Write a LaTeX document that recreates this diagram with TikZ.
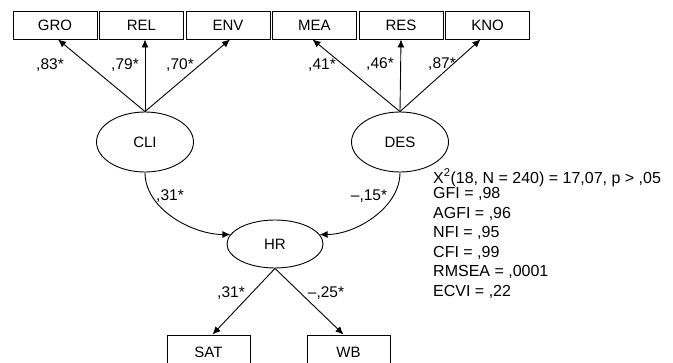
\documentclass[tikz,border=0pt]{standalone}
\usepackage{fontspec}
\setmainfont{Liberation Sans}
\usetikzlibrary{arrows.meta,shapes.geometric}
\begin{document}
\begin{tikzpicture}[x=1pt,y=-1pt,
  every node/.style={font=\fontsize{15}{18}\selectfont},
  obs/.style={draw,line width=0.9pt,rectangle,minimum width=84pt,minimum height=28pt,inner sep=0pt},
  obsb/.style={draw,line width=0.9pt,rectangle,minimum width=83pt,minimum height=34pt,inner sep=0pt},
  lat/.style={draw,line width=0.9pt,ellipse,minimum width=97pt,minimum height=60pt,inner sep=0pt},
  latb/.style={draw,line width=0.9pt,ellipse,minimum width=96pt,minimum height=48pt,inner sep=0pt},
  arr/.style={line width=0.9pt,-{Latex[length=8pt,width=7pt]}},
  lbl/.style={inner sep=0pt,font=\fontsize{15.5}{18}\selectfont},
  stat/.style={inner sep=0pt,anchor=base west,font=\fontsize{16}{19}\selectfont}]
\useasboundingbox (0,0) rectangle (673,362);
\clip (0,0) rectangle (673,362);
% observed indicators
\node[obs] (GRO) at (55,25) {GRO};
\node[obs] (REL) at (141.5,25) {REL};
\node[obs] (ENV) at (228,25) {ENV};
\node[obs] (MEA) at (314.5,25) {MEA};
\node[obs] (RES) at (401,25) {RES};
\node[obs] (KNO) at (487.5,25) {KNO};
% latent
\node[lat] (CLI) at (145,142) {CLI};
\node[lat] (DES) at (400,142) {DES};
\node[latb] (HR) at (275,244) {HR};
% outcomes
\node[obsb] (SAT) at (208.5,352) {SAT};
\node[obsb] (WB) at (348.5,352) {WB};
% loadings
\draw[arr] (CLI.north) -- ([xshift=3pt]GRO.south);
\draw[arr] (CLI.north) -- ([xshift=3.5pt]REL.south);
\draw[arr] (CLI.north) -- ([xshift=2pt]ENV.south);
\draw[arr] (DES.north) -- ([xshift=-2pt]MEA.south);
\draw[arr] (DES.north) -- (RES.south);
\draw[arr] (DES.north) -- ([xshift=-7pt]KNO.south);
% structural paths
\draw[arr] (CLI.south) to[out=-90,in=180,looseness=0.9] (HR.168);
\draw[arr] (DES.south) to[out=-90,in=0,looseness=0.9] (HR.12);
\draw[arr] (HR.south) -- ([xshift=4pt]SAT.north);
\draw[arr] (HR.south) -- ([xshift=-5pt]WB.north);
% labels
\node[lbl] (l1) at (50,65) {,83*};
\node[lbl] (l2) at (125,65) {,79*};
\node[lbl] (l3) at (180,65) {,70*};
\node[lbl] (l4) at (322,65) {,41*};
\node[lbl] (l5) at (380,64) {,46*};
\node[lbl] (l6) at (442,64) {,87*};
\node[lbl] (l7) at (170,196) {,31*};
\node[lbl] (l8) at (369,196) {–,15*};
\node[lbl] (l9) at (231,293) {,31*};
\node[lbl] (l10) at (326,293) {–,25*};
% fit statistics
\node[stat] (s1) at (433,183) {X\textsuperscript{2}(18, N = 240) = 17,07, p > ,05};
\node[stat] (s2) at (433,198) {GFI = ,98};
\node[stat] (s3) at (433,218) {AGFI = ,96};
\node[stat] (s4) at (433,237.5) {NFI = ,95};
\node[stat] (s5) at (433,257) {CFI = ,99};
\node[stat] (s6) at (433,276.5) {RMSEA = ,0001};
\node[stat] (s7) at (433,296) {ECVI = ,22};
\end{tikzpicture}
\end{document}
